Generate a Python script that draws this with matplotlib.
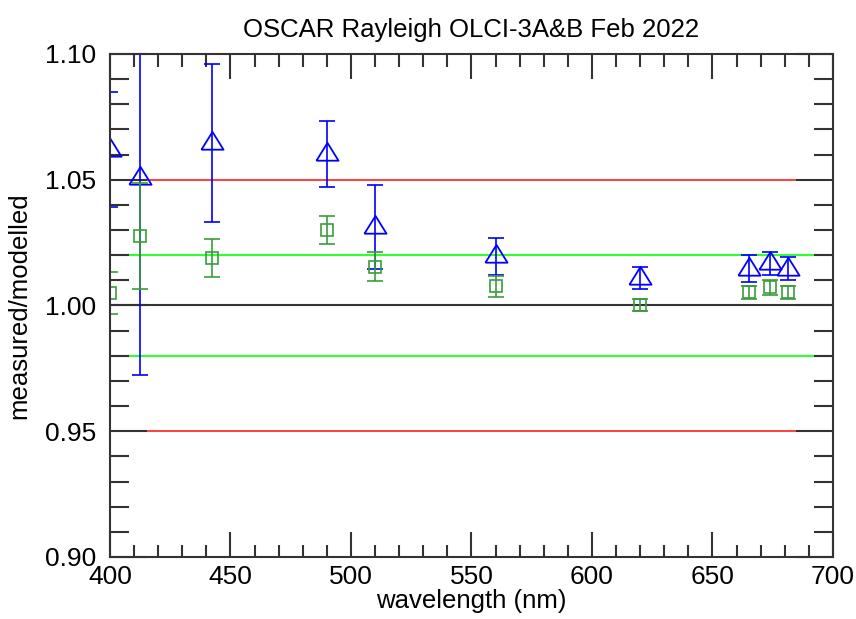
import matplotlib
matplotlib.use('Agg')
import matplotlib.pyplot as plt
import numpy as np

plt.rcParams['font.family'] = ['Liberation Sans', 'DejaVu Sans']

# OLCI band centres (nm)
wl = [400.0, 412.5, 442.5, 490.0, 510.0, 560.0, 620.0, 665.0, 673.75, 681.25]

# blue triangles
ratio_a = [1.062, 1.0505, 1.0645, 1.0603, 1.0313, 1.0195, 1.011, 1.0147, 1.0167, 1.0146]
err_a = [0.023, 0.078, 0.0315, 0.0132, 0.0167, 0.0075, 0.0044, 0.0054, 0.0046, 0.0045]

# green squares
ratio_b = [1.0049, 1.0276, 1.019, 1.0301, 1.0154, 1.0076, 1.0002, 1.0052, 1.0072, 1.0052]
err_b = [0.0083, 0.0212, 0.0075, 0.0056, 0.0057, 0.0042, 0.0025, 0.0027, 0.003, 0.0026]

# reference levels
ref_black = 1.00
ref_green = [0.98, 1.02]
ref_red = [0.95, 1.05]

fig = plt.figure(figsize=(8.56, 6.19), dpi=100)
ax = fig.add_axes([0.1285, 0.1002, 0.8445, 0.8126])

for y in ref_red:
    ax.axhline(y, color='#ff3030', lw=1.3, zorder=1)
for y in ref_green:
    ax.axhline(y, color='#30ff30', lw=1.5, zorder=1)
ax.axhline(ref_black, color='#333333', lw=1.5, zorder=1)

tri = [(-1, -0.56), (1, -0.56), (0, 1.05), (-1, -0.56)]
ax.errorbar(wl, ratio_a, yerr=err_a, fmt='none', ecolor='#0000ff',
            elinewidth=1.2, capsize=6, capthick=1.2, zorder=2.1)
ax.plot(wl, ratio_a, ls='none', marker=tri, ms=16.7, mfc='none',
        mec='#0000ff', mew=1.3, zorder=2.1)

ax.errorbar(wl, ratio_b, yerr=err_b, fmt='none', ecolor='#3a9d3a',
            elinewidth=1.2, capsize=6, capthick=1.2, zorder=2.2)
ax.plot(wl, ratio_b, ls='none', marker='s', ms=8.6, mfc='none',
        mec='#3a9d3a', mew=1.2, zorder=2.2)

ax.set_xlim(400, 700)
ax.set_ylim(0.90, 1.10)
ax.set_xticks(np.arange(400, 701, 50))
ax.set_xticks(np.arange(400, 701, 10), minor=True)
ax.set_yticks([0.90, 0.95, 1.00, 1.05, 1.10])
ax.set_yticklabels(['0.90', '0.95', '1.00', '1.05', '1.10'])
ax.set_yticks(np.arange(0.90, 1.1001, 0.01), minor=True)

for s in ax.spines.values():
    s.set_color('#333333')
    s.set_linewidth(1.5)
ax.tick_params(axis='both', which='both', direction='in', top=True, right=True,
               color='#333333', width=1.5, labelsize=19, labelcolor='black')
ax.tick_params(axis='x', which='major', length=18)
ax.tick_params(axis='x', which='minor', length=9)
ax.tick_params(axis='y', which='major', length=26.5)
ax.tick_params(axis='y', which='minor', length=13.5)
ax.tick_params(axis='x', which='major', pad=6)
ax.tick_params(axis='y', which='major', pad=10)

ax.set_title('OSCAR Rayleigh OLCI-3A&B Feb 2022', fontsize=18.5, pad=12)
ax.set_xlabel('wavelength (nm)', fontsize=18.5, labelpad=0)
ax.set_ylabel('measured/modelled', fontsize=18.5, labelpad=10)

fig.savefig('out.png', dpi=100)
